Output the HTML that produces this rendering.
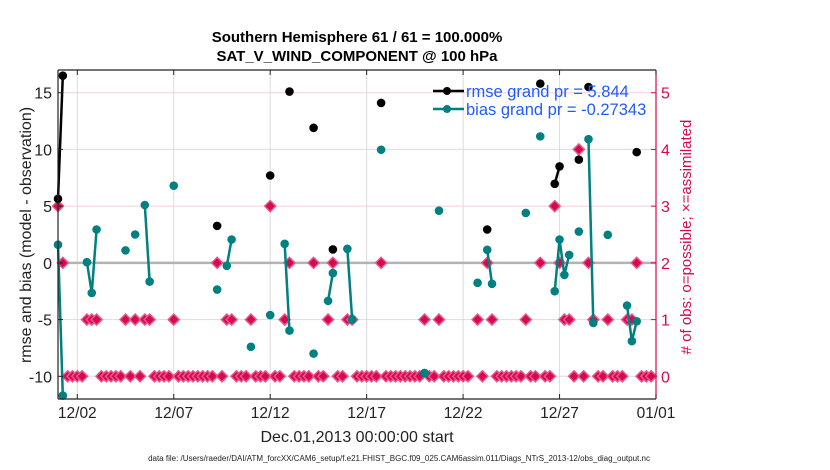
<!DOCTYPE html>
<html><head><meta charset="utf-8"><style>
body{margin:0;background:#fff;}
svg{display:block;font-family:"Liberation Sans",sans-serif;}
</style></head><body>
<svg id="chart" width="830" height="470" viewBox="0 0 830 470">
<text x="357" y="42" text-anchor="middle" font-size="15" font-weight="bold">Southern Hemisphere 61 / 61 = 100.000%</text>
<text x="357" y="61" text-anchor="middle" font-size="15" font-weight="bold">SAT_V_WIND_COMPONENT @ 100 hPa</text>
<g id="grid"></g>
<g id="marks"></g>
<g id="axes"></g>
<g>
<line x1="433" y1="91" x2="464" y2="91" stroke="#000" stroke-width="2.5"/>
<circle cx="447" cy="91" r="4" fill="#000"/>
<text x="466" y="97" font-size="16.5" fill="#1f5cff">rmse grand pr = 5.844</text>
<line x1="433" y1="109" x2="464" y2="109" stroke="#008080" stroke-width="2.5"/>
<circle cx="447" cy="109" r="4" fill="#008080"/>
<text x="466" y="115" font-size="16.5" fill="#1f5cff">bias grand pr = -0.27343</text>
</g>
<text transform="translate(31,235) rotate(-90)" text-anchor="middle" font-size="16" fill="#222">rmse and bias (model - observation)</text>
<text transform="translate(691,237) rotate(-90)" text-anchor="middle" font-size="15" fill="#d6084f"># of obs: o=possible; ×=assimilated</text>
<text x="357" y="442" text-anchor="middle" font-size="16" fill="#222">Dec.01,2013 00:00:00 start</text>
<text x="399" y="461" text-anchor="middle" font-size="8" fill="#222">data file: /Users/raeder/DAI/ATM_forcXX/CAM6_setup/f.e21.FHIST_BGC.f09_025.CAM6assim.011/Diags_NTrS_2013-12/obs_diag_output.nc</text>
</svg>
<script>
const leftTicks=[-10,-5,0,5,10,15];
const rightTicks=[0,1,2,3,4,5];
const xTickDays=[1,6,11,16,21,26,31];
const xTickLabels=["12/02","12/07","12/12","12/17","12/22","12/27","01/01"];
const rmseIdx=[0,1,33,44,48,53,57,67,89,100,103,104,108,110,120];
const rmseVal=[5.65,16.5,3.26,7.7,15.1,11.9,1.18,14.1,2.94,15.8,6.97,8.5,9.1,15.5,9.76];
const biasIdx=[0,1,6,7,8,14,16,18,19,24,33,35,36,40,44,47,48,53,56,57,60,61,67,76,79,87,89,90,97,100,103,104,105,106,108,110,111,114,118,119,120];
const biasVal=[1.6,-11.7,0.06,-2.65,2.94,1.1,2.5,5.1,-1.65,6.8,-2.35,-0.26,2.06,-7.4,-4.6,1.68,-5.97,-8.0,-3.35,-0.9,1.24,-5.0,9.97,-9.7,4.6,-1.76,1.15,-1.85,4.4,11.15,-2.5,2.06,-1.06,0.7,2.76,10.9,-5.3,2.47,-3.76,-6.9,-5.15];
const countVal=[3,2,0,0,0,0,1,1,1,0,0,0,0,0,1,0,1,0,1,1,0,0,0,0,1,0,0,0,0,0,0,0,0,2,0,1,1,0,0,0,1,0,0,0,3,0,0,1,2,0,0,0,0,2,0,0,1,2,0,0,1,1,0,0,0,0,0,2,0,0,0,0,0,0,0,0,1,0,0,1,0,0,0,0,0,0,null,1,0,2,1,0,0,0,0,0,0,1,0,0,2,0,0,3,2,1,1,0,4,0,2,1,0,0,1,0,0,0,1,1,2,0,0,0];
const NS="http://www.w3.org/2000/svg";
const L=58,R=656,T=70,B=399;
const x=i=>L+(i/4)*(R-L)/31;
const xd=d=>L+d*(R-L)/31;
const y=v=>T+(17-v)*(B-T)/29;
const yc=c=>y(c*5-10);
function mk(p,tag,a){const e=document.createElementNS(NS,tag);for(const k in a)e.setAttribute(k,a[k]);p.appendChild(e);return e;}
const grid=document.getElementById('grid'),marks=document.getElementById('marks'),axes=document.getElementById('axes');
xTickDays.forEach(d=>{const g=mk(grid,'line',{x1:xd(d),x2:xd(d),y1:T,y2:B,stroke:'#dcdcdc','stroke-width':1});

});
leftTicks.forEach(v=>{const g=mk(grid,'line',{x1:L,x2:R,y1:y(v),y2:y(v),stroke:'#f4cfdc','stroke-width':1});

});
const zl=mk(grid,'line',{x1:L,x2:R,y1:y(0),y2:y(0),stroke:'#b3b3b3','stroke-width':2.5});


countVal.forEach((c,i)=>{if(c===null)return;const cx=x(i),cy=yc(c),s=5.5;
const p=mk(marks,'polygon',{points:`${cx},${cy-s} ${cx+s},${cy} ${cx},${cy+s} ${cx-s},${cy}`,fill:'#d6084f',stroke:'#e8558a','stroke-width':1.5});

});
function series(idx,val,color,name){
 let seg=[];const segs=[];
 idx.forEach((ix,k)=>{if(k>0&&ix===idx[k-1]+1)seg.push([x(ix),y(val[k])]);else{if(seg.length)segs.push(seg);seg=[[x(ix),y(val[k])]];}});
 if(seg.length)segs.push(seg);
 segs.forEach(s=>{if(s.length>1){const pl=mk(marks,'polyline',{points:s.map(p=>p.join(',')).join(' '),fill:'none',stroke:color,'stroke-width':2.5});
 
 }});
 idx.forEach((ix,k)=>{const c=mk(marks,'circle',{cx:x(ix),cy:y(val[k]),r:4.3,fill:color});
 
 });
}
series(biasIdx,biasVal,'#008080','bias');
series(rmseIdx,rmseVal,'#000000','rmse');
mk(axes,'line',{x1:L,x2:R,y1:T,y2:T,stroke:'#222','stroke-width':1.2});
mk(axes,'line',{x1:L,x2:R,y1:B,y2:B,stroke:'#222','stroke-width':1.2});
mk(axes,'line',{x1:L,x2:L,y1:T,y2:B,stroke:'#222','stroke-width':1.2});
const ra=mk(axes,'line',{x1:R,x2:R,y1:T,y2:B,stroke:'#d6084f','stroke-width':1.2});


leftTicks.forEach(v=>{mk(axes,'line',{x1:L,x2:L+5,y1:y(v),y2:y(v),stroke:'#222'});
const t=mk(axes,'text',{x:L-6,y:y(v)+6,'text-anchor':'end','font-size':16,fill:'#222'});t.textContent=v;

});
rightTicks.forEach(c=>{mk(axes,'line',{x1:R-5,x2:R,y1:yc(c),y2:yc(c),stroke:'#d6084f'});
const t=mk(axes,'text',{x:R+5,y:yc(c)+6,'font-size':16,fill:'#d6084f'});t.textContent=c;

});
xTickDays.forEach((d,k)=>{mk(axes,'line',{x1:xd(d),x2:xd(d),y1:B,y2:B-5,stroke:'#222'});mk(axes,'line',{x1:xd(d),x2:xd(d),y1:T,y2:T+5,stroke:'#222'});
const t=mk(axes,'text',{x:xd(d),y:418,'text-anchor':'middle','font-size':15.5,fill:'#222'});t.textContent=xTickLabels[k];

});
</script>
</body></html>
